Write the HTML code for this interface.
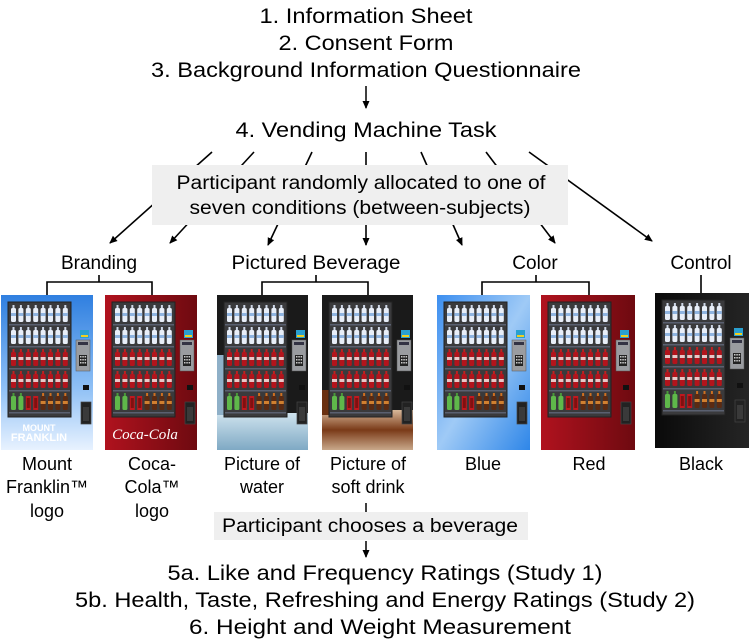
<!DOCTYPE html>
<html><head><meta charset="utf-8"><style>
html,body{margin:0;padding:0;background:#fff;}
svg{display:block;font-family:"Liberation Sans",Arial,sans-serif;}
</style></head><body>
<svg width="749" height="642" viewBox="0 0 749 642" xmlns="http://www.w3.org/2000/svg">
<defs>
<marker id="ah" markerWidth="8" markerHeight="8" refX="7" refY="4" orient="auto" markerUnits="userSpaceOnUse">
<path d="M0,0.5 L8,4 L0,7.5 z" fill="#000"/></marker>
<linearGradient id="gBlueMF" x1="0" y1="0" x2="0" y2="1"><stop offset="0" stop-color="#2f7fe0"/><stop offset="0.6" stop-color="#8fc0f5"/><stop offset="1" stop-color="#e8f2ff"/></linearGradient>
<linearGradient id="gBlue" x1="0" y1="0" x2="1" y2="1"><stop offset="0" stop-color="#3d8ff0"/><stop offset="0.5" stop-color="#9fcaf6"/><stop offset="1" stop-color="#2e86e8"/></linearGradient>
<linearGradient id="gRed" x1="0" y1="0" x2="1" y2="0"><stop offset="0" stop-color="#b0121e"/><stop offset="1" stop-color="#6e0a10"/></linearGradient>
<linearGradient id="gBlack" x1="0" y1="0" x2="1" y2="0"><stop offset="0" stop-color="#0a0a0a"/><stop offset="1" stop-color="#252525"/></linearGradient>
<linearGradient id="gWater" x1="0" y1="0" x2="0" y2="1"><stop offset="0" stop-color="#cfe3ee"/><stop offset="1" stop-color="#7fa9c4"/></linearGradient>
<linearGradient id="gSoda" x1="0" y1="0" x2="0" y2="1"><stop offset="0" stop-color="#d9b99a"/><stop offset="0.5" stop-color="#7a3a18"/><stop offset="1" stop-color="#c9a88a"/></linearGradient>
<g id="bw"><rect x="0" y="3" width="5" height="14" rx="1.5" fill="#e8eef8"/><rect x="1.5" y="0" width="2" height="3" fill="#cfd8e8"/><rect x="0" y="8" width="5" height="3" fill="#8fb4e0"/></g>
<g id="br"><rect x="0" y="3" width="5" height="14" rx="1.5" fill="#b3141c"/><rect x="1.5" y="0" width="2" height="3" fill="#c02020"/><rect x="0" y="8" width="5" height="3" fill="#e8c8c8"/></g>
<g id="bg"><rect x="0" y="3" width="5" height="14" rx="1.5" fill="#5fb84a"/><rect x="1.5" y="0" width="2" height="3" fill="#4a9a3a"/></g>
<g id="bc"><rect x="0" y="3" width="5" height="14" fill="#c0181e"/><rect x="1" y="5" width="3" height="10" fill="#801010"/></g>
<g id="bb"><rect x="0" y="3" width="5" height="14" rx="1.5" fill="#5a2a12"/><rect x="1.5" y="0" width="2" height="3" fill="#d07020"/><rect x="0" y="8" width="5" height="3" fill="#d08030"/></g>
<g id="rowW"><use href="#bw" x="0"/><use href="#bw" x="7.4"/><use href="#bw" x="14.8"/><use href="#bw" x="22.2"/><use href="#bw" x="29.6"/><use href="#bw" x="37"/><use href="#bw" x="44.4"/><use href="#bw" x="51.8"/></g>
<g id="rowR"><use href="#br" x="0"/><use href="#br" x="7.4"/><use href="#br" x="14.8"/><use href="#br" x="22.2"/><use href="#br" x="29.6"/><use href="#br" x="37"/><use href="#br" x="44.4"/><use href="#br" x="51.8"/></g>
<g id="m">
<rect x="7" y="7" width="63" height="115" fill="#3a3a3c" stroke="#222" stroke-width="1"/>
<g fill="#5a6070"><rect x="8" y="29" width="61" height="1.5"/><rect x="8" y="51" width="61" height="1.5"/><rect x="8" y="73" width="61" height="1.5"/><rect x="8" y="95" width="61" height="1.5"/><rect x="8" y="117" width="61" height="1.5"/></g>
<use href="#rowW" x="10" y="10"/><use href="#rowW" x="10" y="32"/><use href="#rowR" x="10" y="54"/><use href="#rowR" x="10" y="76"/>
<use href="#bg" x="10" y="98"/><use href="#bg" x="17.4" y="98"/><use href="#bc" x="24.8" y="98"/><use href="#bc" x="32.2" y="98"/><use href="#bb" x="39.6" y="98"/><use href="#bb" x="47" y="98"/><use href="#bb" x="54.4" y="98"/><use href="#bb" x="61.8" y="98"/>
<rect x="79" y="35" width="9" height="8" fill="#2aa0d0"/><rect x="80" y="40" width="7" height="2" fill="#f0d020"/>
<rect x="75" y="45" width="14" height="31" fill="#9a9ca0" stroke="#555" stroke-width="0.5"/>
<rect x="77" y="47" width="10" height="3" fill="#334"/>
<rect x="78" y="60" width="8" height="11" fill="#222"/>
<g fill="#ccc"><rect x="79" y="61" width="1.5" height="1.5"/><rect x="81.3" y="61" width="1.5" height="1.5"/><rect x="83.6" y="61" width="1.5" height="1.5"/><rect x="79" y="64" width="1.5" height="1.5"/><rect x="81.3" y="64" width="1.5" height="1.5"/><rect x="83.6" y="64" width="1.5" height="1.5"/><rect x="79" y="67" width="1.5" height="1.5"/><rect x="81.3" y="67" width="1.5" height="1.5"/><rect x="83.6" y="67" width="1.5" height="1.5"/></g>
<rect x="82" y="90" width="6" height="5" fill="#111"/>
<rect x="80" y="107" width="10" height="22" fill="#222" stroke="#444" stroke-width="0.7"/>
<rect x="82" y="112" width="6" height="14" fill="#3a3a3a"/>
</g>
</defs>

<g font-size="21" text-anchor="middle" fill="#000">
<text x="366" y="23" textLength="213" lengthAdjust="spacingAndGlyphs">1. Information Sheet</text>
<text x="366" y="50" textLength="175" lengthAdjust="spacingAndGlyphs">2. Consent Form</text>
<text x="366" y="77" textLength="430" lengthAdjust="spacingAndGlyphs">3. Background Information Questionnaire</text>
<text x="366" y="137" textLength="261" lengthAdjust="spacingAndGlyphs">4. Vending Machine Task</text>
</g>
<line x1="366" y1="86" x2="366" y2="108" stroke="#000" stroke-width="1.5" marker-end="url(#ah)"/>

<g stroke="#000" stroke-width="1.6" marker-end="url(#ah)">
<line x1="212" y1="152" x2="110" y2="243"/>
<line x1="254" y1="152" x2="170" y2="243"/>
<line x1="312" y1="152" x2="268" y2="245"/>
<line x1="366" y1="152" x2="366" y2="245"/>
<line x1="421" y1="152" x2="462" y2="245"/>
<line x1="486" y1="152" x2="555" y2="243"/>
<line x1="529" y1="152" x2="652" y2="241"/>
</g>
<rect x="152" y="165" width="416" height="60" fill="#efefef"/>
<g font-size="19" text-anchor="middle">
<text x="361" y="189" textLength="369" lengthAdjust="spacingAndGlyphs">Participant randomly allocated to one of</text>
<text x="360" y="214" textLength="341" lengthAdjust="spacingAndGlyphs">seven conditions (between-subjects)</text>
</g>

<g font-size="19" text-anchor="middle">
<text x="99" y="269">Branding</text>
<text x="316" y="269" textLength="169" lengthAdjust="spacingAndGlyphs">Pictured Beverage</text>
<text x="535" y="269">Color</text>
<text x="701" y="269">Control</text>
</g>
<g stroke="#000" stroke-width="1.6" fill="none">
<polyline points="47,295 47,282 152,282 152,295"/><line x1="99" y1="275" x2="99" y2="282"/>
<polyline points="262,295 262,282 368,282 368,295"/><line x1="316" y1="275" x2="316" y2="282"/>
<polyline points="482,295 482,282 589,282 589,295"/><line x1="536" y1="275" x2="536" y2="282"/>
<line x1="701" y1="275" x2="701" y2="293"/>
</g>

<!-- machines -->
<g transform="translate(1,295)"><rect width="92" height="155" fill="url(#gBlueMF)"/><use href="#m"/>
<text x="38" y="136" font-size="9" fill="#fff" text-anchor="middle" font-weight="bold">MOUNT</text><text x="38" y="146" font-size="11" fill="#fff" text-anchor="middle" font-weight="bold">FRANKLIN</text></g>
<g transform="translate(105,295)"><rect width="92" height="155" fill="url(#gRed)"/><use href="#m"/>
<text x="40" y="144" font-size="15" fill="#fff" text-anchor="middle" font-family="Liberation Serif,serif" font-style="italic">Coca-Cola</text></g>
<g transform="translate(217,295)"><rect width="91" height="155" fill="#1a1a1a"/><rect x="0" y="118" width="91" height="37" fill="url(#gWater)"/><rect x="0" y="60" width="8" height="60" fill="#8fb0c8"/><use href="#m"/></g>
<g transform="translate(322,295)"><rect width="91" height="155" fill="#1a1a1a"/><rect x="0" y="115" width="91" height="40" fill="url(#gSoda)"/><rect x="0" y="95" width="8" height="25" fill="#6a3010"/><use href="#m"/></g>
<g transform="translate(437,295)"><rect width="93" height="155" fill="url(#gBlue)"/><use href="#m"/></g>
<g transform="translate(541,295)"><rect width="94" height="155" fill="url(#gRed)"/><use href="#m"/></g>
<g transform="translate(655,293)"><rect width="94" height="155" fill="url(#gBlack)"/><use href="#m"/></g>

<g font-size="18" text-anchor="middle">
<text x="47" y="470">Mount</text><text x="47" y="493">Franklin™</text><text x="47" y="517">logo</text>
<text x="152" y="470">Coca-</text><text x="152" y="493">Cola™</text><text x="152" y="517">logo</text>
<text x="262" y="470">Picture of</text><text x="262" y="493">water</text>
<text x="368" y="470">Picture of</text><text x="368" y="493">soft drink</text>
<text x="483" y="470">Blue</text>
<text x="589" y="470">Red</text>
<text x="701" y="470">Black</text>
</g>

<line x1="366" y1="503" x2="366" y2="513" stroke="#000" stroke-width="1.5"/>
<rect x="214" y="512" width="314" height="28" fill="#efefef"/>
<text x="370" y="532" font-size="19" text-anchor="middle" textLength="296" lengthAdjust="spacingAndGlyphs">Participant chooses a beverage</text>
<line x1="366" y1="541" x2="366" y2="557" stroke="#000" stroke-width="1.5" marker-end="url(#ah)"/>

<g font-size="21" text-anchor="middle">
<text x="385" y="580" textLength="435" lengthAdjust="spacingAndGlyphs">5a. Like and Frequency Ratings (Study 1)</text>
<text x="385" y="607" textLength="620" lengthAdjust="spacingAndGlyphs">5b. Health, Taste, Refreshing and Energy Ratings (Study 2)</text>
<text x="380" y="634" textLength="382" lengthAdjust="spacingAndGlyphs">6. Height and Weight Measurement</text>
</g>
</svg>
</body></html>
